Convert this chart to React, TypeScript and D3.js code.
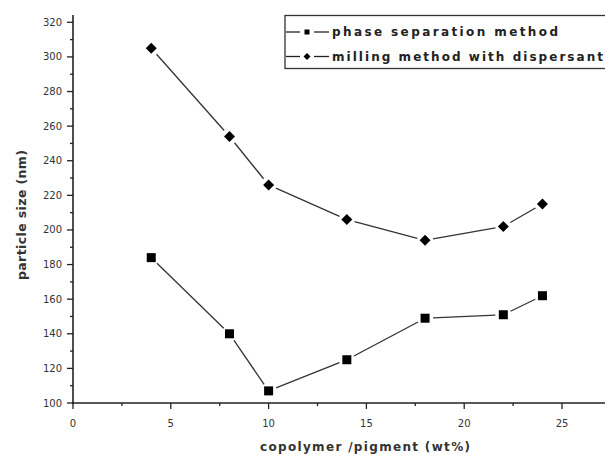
import React from "react";
import * as d3 from "d3";

const xValues = [4, 8, 10, 14, 18, 22, 24];
const phaseSeparation = [184, 140, 107, 125, 149, 151, 162];
const millingDispersant = [305, 254, 226, 206, 194, 202, 215];
const xTicks = [0, 5, 10, 15, 20, 25];
const yTicks = [100, 120, 140, 160, 180, 200, 220, 240, 260, 280, 300, 320];
const seriesNames = ["phase separation method", "milling method with dispersant"];

const W = 605;
const H = 457;

export default function App() {
  const x = d3.scaleLinear().domain([0, 25]).range([73, 562]);
  const y = d3.scaleLinear().domain([100, 320]).range([403, 22.3]);
  const xMinor = d3.range(0, 27.5, 2.5).filter((v) => v % 5 !== 0);
  const yMinor = d3.range(110, 330, 20);
  const axisColor = "#222";
  const txt = "#333";

  const segs = (vals: number[]) => {
    const out: { x1: number; y1: number; x2: number; y2: number }[] = [];
    for (let i = 0; i < vals.length - 1; i++) {
      const ax = x(xValues[i]), ay = y(vals[i]);
      const bx = x(xValues[i + 1]), by = y(vals[i + 1]);
      const dx = bx - ax, dy = by - ay;
      const len = Math.hypot(dx, dy);
      const g = 8;
      if (len <= 2 * g) continue;
      out.push({ x1: ax + (dx / len) * g, y1: ay + (dy / len) * g, x2: bx - (dx / len) * g, y2: by - (dy / len) * g });
    }
    return out;
  };

  const square = (cx: number, cy: number, s: number, k: string) => (
    <rect key={k} x={cx - s / 2} y={cy - s / 2} width={s} height={s} fill="#000" />
  );
  const diamond = (cx: number, cy: number, s: number, k: string) => (
    <path key={k} d={`M${cx},${cy - s / 2}L${cx + s / 2},${cy}L${cx},${cy + s / 2}L${cx - s / 2},${cy}Z`} fill="#000" />
  );

  const font = "'DejaVu Sans', Verdana, sans-serif";

  return (
    <svg width={W} height={H} style={{ position: "absolute", left: 0, top: 0, background: "#fff" }} fontFamily={font}>
      <rect width={W} height={H} fill="#fff" />
      {/* axes */}
      <line x1={73} y1={15} x2={73} y2={404} stroke={axisColor} strokeWidth={1.6} />
      <line x1={72} y1={403} x2={605} y2={403} stroke={axisColor} strokeWidth={1.6} />
      {yTicks.map((t) => (
        <g key={"yt" + t}>
          <line x1={67} x2={73} y1={y(t)} y2={y(t)} stroke={axisColor} strokeWidth={1.3} />
          <text x={62} y={y(t)} dy="0.35em" textAnchor="end" fontSize={10} fill={txt}>{t}</text>
        </g>
      ))}
      {yMinor.map((t) => (
        <line key={"ym" + t} x1={70} x2={73} y1={y(t)} y2={y(t)} stroke={axisColor} strokeWidth={1.3} />
      ))}
      {xTicks.map((t) => (
        <g key={"xt" + t}>
          <line x1={x(t)} x2={x(t)} y1={403} y2={409} stroke={axisColor} strokeWidth={1.3} />
          <text x={x(t)} y={423} dy="0.35em" textAnchor="middle" fontSize={10} fill={txt}>{t}</text>
        </g>
      ))}
      {xMinor.map((t) => (
        <line key={"xm" + t} x1={x(t)} x2={x(t)} y1={403} y2={406} stroke={axisColor} strokeWidth={1.3} />
      ))}
      <text x={260} y={451} fontSize={12} fontWeight="bold" fill="#333" textLength={210} lengthAdjust="spacing">copolymer /pigment (wt%)</text>
      <text transform={`translate(26,280) rotate(-90)`} fontSize={12.5} fontWeight="bold" fill="#333" textLength={130} lengthAdjust="spacing">particle size (nm)</text>

      {/* series lines */}
      {segs(phaseSeparation).map((s, i) => (
        <line key={"ps" + i} {...s} stroke="#333" strokeWidth={1.3} />
      ))}
      {segs(millingDispersant).map((s, i) => (
        <line key={"ms" + i} {...s} stroke="#333" strokeWidth={1.3} />
      ))}
      {phaseSeparation.map((v, i) => square(x(xValues[i]), y(v), 9, "pq" + i))}
      {millingDispersant.map((v, i) => diamond(x(xValues[i]), y(v), 11, "md" + i))}

      {/* legend */}
      <rect x={285} y={15.5} width={330} height={53} fill="#fff" stroke="#333" strokeWidth={1.3} />
      {seriesNames.map((n, i) => {
        const cy = i === 0 ? 32 : 56.5;
        return (
          <g key={"lg" + i}>
            <line x1={286} x2={300} y1={cy} y2={cy} stroke="#222" strokeWidth={1.3} />
            <line x1={314} x2={329} y1={cy} y2={cy} stroke="#222" strokeWidth={1.3} />
            {i === 0 ? square(307, cy, 5, "ls") : diamond(307, cy, 7, "ld")}
            <text x={332} y={cy} dy="0.35em" fontSize={12} fontWeight="bold" fill="#222" textLength={i === 0 ? 226 : 271} lengthAdjust="spacing">{n}</text>
          </g>
        );
      })}
    </svg>
  );
}
